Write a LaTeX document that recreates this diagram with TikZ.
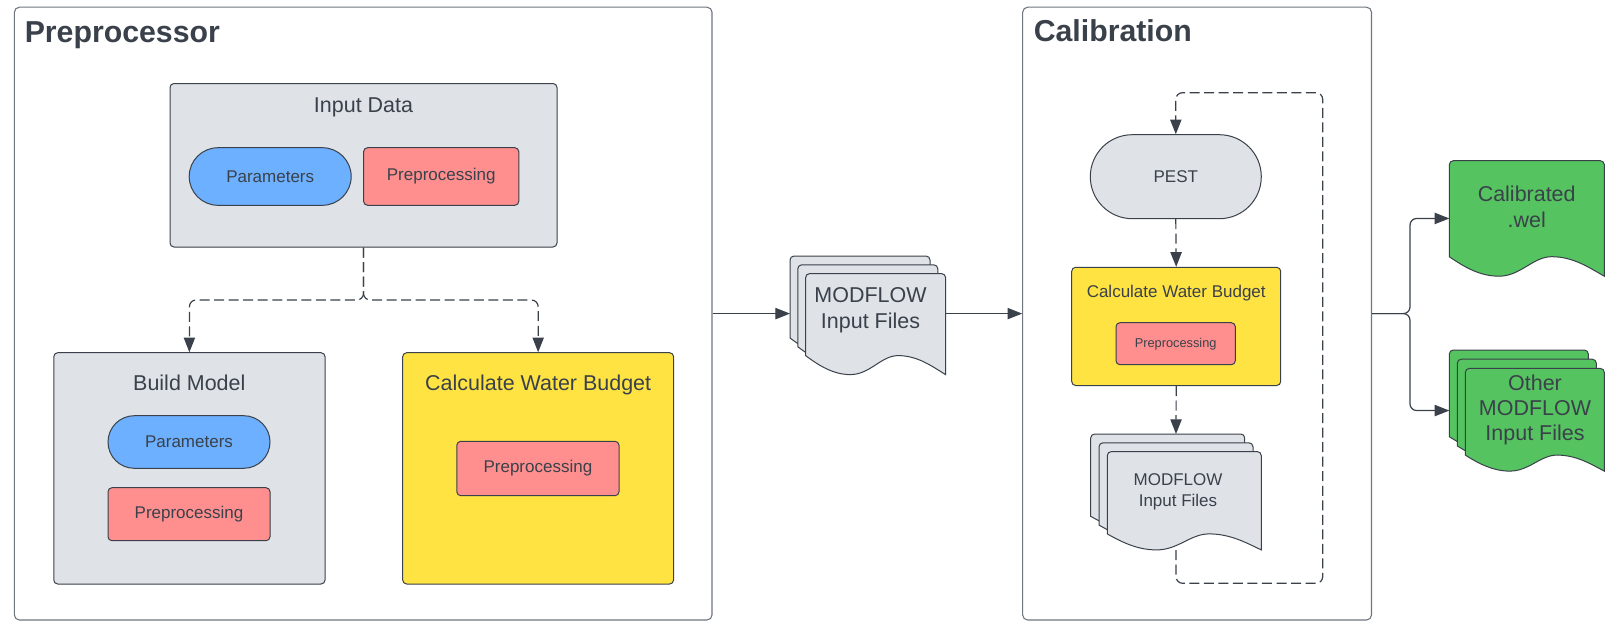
\documentclass[tikz,border=0pt]{standalone}
\usepackage{fontspec}
\setmainfont{Liberation Sans}
\usetikzlibrary{arrows.meta,shapes.misc}

\definecolor{ink}{HTML}{3A414A}
\definecolor{frame}{HTML}{6F7680}
\definecolor{slate}{HTML}{DFE3E8}
\definecolor{sky}{HTML}{6CB0FF}
\definecolor{salmon}{HTML}{FF8F8F}
\definecolor{sun}{HTML}{FFE342}
\definecolor{leaf}{HTML}{55C35F}

% one document sheet: fill, left, top, width, body height, wave depth
\newcommand\docsheet[6]{%
  \filldraw[sheet, fill=#1]
    ({#2},{#3+#5}) -- ({#2},{#3+4})
    .. controls ({#2},{#3+1.8}) and ({#2+1.8},{#3}) .. ({#2+4},{#3})
    -- ({#2+#4-4},{#3})
    .. controls ({#2+#4-1.8},{#3}) and ({#2+#4},{#3+1.8}) .. ({#2+#4},{#3+4})
    -- ({#2+#4},{#3+#5+#6})
    .. controls ({#2+0.9*#4},{#3+#5+0.55*#6}) and ({#2+0.8*#4},{#3+#5}) .. ({#2+0.66*#4},{#3+#5})
    .. controls ({#2+0.54*#4},{#3+#5}) and ({#2+0.46*#4},{#3+#5+#6}) .. ({#2+0.32*#4},{#3+#5+#6})
    .. controls ({#2+0.2*#4},{#3+#5+#6}) and ({#2+0.1*#4},{#3+#5+0.55*#6}) .. ({#2},{#3+#5})
    -- cycle;}
% a stack of three sheets: fill, left, top, width, body height, wave depth, dx, dy
\newcommand\docstack[8]{%
  \docsheet{#1}{#2}{#3}{#4}{#5}{#6}%
  \docsheet{#1}{#2+#7}{#3+#8}{#4}{#5}{#6}%
  \docsheet{#1}{#2+2*#7}{#3+2*#8}{#4}{#5}{#6}}

\tikzset{
  px/.style 2 args={minimum width=#1*0.75pt, minimum height=#2*0.75pt},
  container/.style={draw=frame, line width=0.8pt, rounded corners=3.75pt, fill=white, inner sep=0pt},
  panel/.style={draw=ink, line width=0.75pt, rounded corners=3pt, inner sep=0pt},
  pill/.style={rounded rectangle, draw=ink, line width=0.75pt, inner sep=0pt, text=ink},
  procbox/.style={draw=ink, line width=0.75pt, rounded corners=3pt, fill=salmon, inner sep=0pt, text=ink},
  label/.style={text=ink, inner sep=0pt, anchor=base},
  doctext/.style={text=ink, inner sep=0pt, align=center},
  hidden/.style={inner sep=0pt, outer sep=0pt, draw=none},
  sheet/.style={draw=ink, line width=0.75pt},
  flow/.style={draw=ink, line width=0.9pt, -{Triangle[length=11pt,width=8.5pt]}},
  dashflow/.style={flow, dash pattern=on 7.5pt off 3.4pt},
  big/.style={font=\fontsize{16.1pt}{19.2pt}\selectfont},
  mid/.style={font=\fontsize{12.75pt}{15.5pt}\selectfont},
  small/.style={font=\fontsize{9.6pt}{11.5pt}\selectfont},
  heading/.style={font=\fontsize{22.7pt}{26pt}\selectfont\bfseries},
}

\begin{document}
\begin{tikzpicture}[x=0.75pt, y=-0.75pt]
\useasboundingbox[fill=white] (0,0) rectangle (1618,621);

% containers
\node[container, px={697.6}{612.8}] (pre) at (363.2,313.6) {};
\node[container, px={348.8}{612.8}] (cal) at (1197.1,313.6) {};
\node[label, heading, anchor=base west] (pretitle) at (24.5,42.7) {Preprocessor};
\node[label, heading, anchor=base west] (caltitle) at (1033.5,41.7) {Calibration};

% preprocessor: input data
\node[panel, fill=slate, px={387}{163.5}] (ind) at (363.5,165.25) {};
\node[label, big] (indtitle) at (363.5,112) {Input Data};
\node[pill, fill=sky, mid, px={162}{57.6}] (par1) at (270.2,176.5) {Parameters};
\node[procbox, mid, px={155.2}{57.6}] (prep1) at (441.2,176.5) {Preprocessing};

% preprocessor: build model
\node[panel, fill=slate, px={271.3}{231.3}] (bm) at (189.4,468.35) {};
\node[label, big] (bmtitle) at (189.3,390) {Build Model};
\node[pill, fill=sky, mid, px={162}{52.6}] (par2) at (189,442) {Parameters};
\node[procbox, mid, px={162}{53}] (prep2) at (189,514.2) {Preprocessing};

% preprocessor: water budget
\node[panel, fill=sun, px={270.9}{231.3}] (cwb1) at (538.15,468.35) {};
\node[label, big] (cwb1title) at (538.2,390) {Calculate Water Budget};
\node[procbox, mid, px={162.2}{54.4}] (prep3) at (537.9,468.5) {Preprocessing};

\coordinate (split) at (363.5,300);
\draw[dashflow, rounded corners=5pt] (ind.south) -- (split) -| (bm.north);
\draw[dashflow, rounded corners=5pt] (ind.south) -- (split) -| (cwb1.north);

% calibration loop
\node[hidden, px={170.6}{115.9}] (mfB) at (1176,491.95) {};
\coordinate (lp1) at (1322.7,583.3);
\coordinate (lp2) at (1322.7,92.7);
\node[pill, fill=slate, mid, px={171}{84}] (pest) at (1175.8,176.7) {PEST};
\draw[dashflow, rounded corners=5pt] (mfB.center) |- (lp1) -- (lp2) -| (pest.north);

\node[panel, fill=sun, px={209}{118.2}] (cwb2) at (1176.2,326.4) {};
\node[label, mid] (cwb2title) at (1176.2,297.7) {Calculate Water Budget};
\node[procbox, small, px={119.3}{42}] (prep4) at (1175.65,343.7) {Preprocessing};

\docstack{slate}{1090.7}{434}{154}{82.3}{16}{8.3}{8.8}
\node[doctext, mid] (mfBtext) at (1178,492) {MODFLOW\\Input Files};

\draw[dashflow] (pest.south) -- (cwb2.north);
\draw[dashflow] (cwb2.south) -- (mfB.north);

% intermediate input files
\node[hidden, px={155.6}{118.6}] (mfA) at (867.8,315.3) {};
\docstack{slate}{790}{256}{140}{82}{19}{7.8}{8.8}
\node[doctext, big] (mfAtext) at (870.5,310) {MODFLOW\\Input Files};

\draw[flow] (pre.east) -- (pre.east -| mfA.west);
\draw[flow] (mfA.east |- cal.west) -- (cal.west);

% outputs
\node[hidden, px={155}{115.5}] (wel) at (1526.8,218.45) {};
\docsheet{leaf}{1449.3}{160.7}{155}{96}{19.5}
\node[doctext, big] (weltext) at (1526.7,206.8) {Calibrated\\.wel};

\node[hidden, px={155}{121.1}] (oth) at (1526.8,410.55) {};
\docstack{leaf}{1449.3}{350}{139}{86.7}{16}{8}{9.2}
\node[doctext, big, font=\fontsize{16.1pt}{19pt}\selectfont] (othtext) at (1535,409.9) {Other\\MODFLOW\\Input Files};

\coordinate (br) at (1410,313.6);
\draw[flow, rounded corners=5pt] (cal.east) -- (br) |- (wel.west);
\draw[flow, rounded corners=5pt] (cal.east) -- (br) |- (oth.west);
\end{tikzpicture}
\end{document}
